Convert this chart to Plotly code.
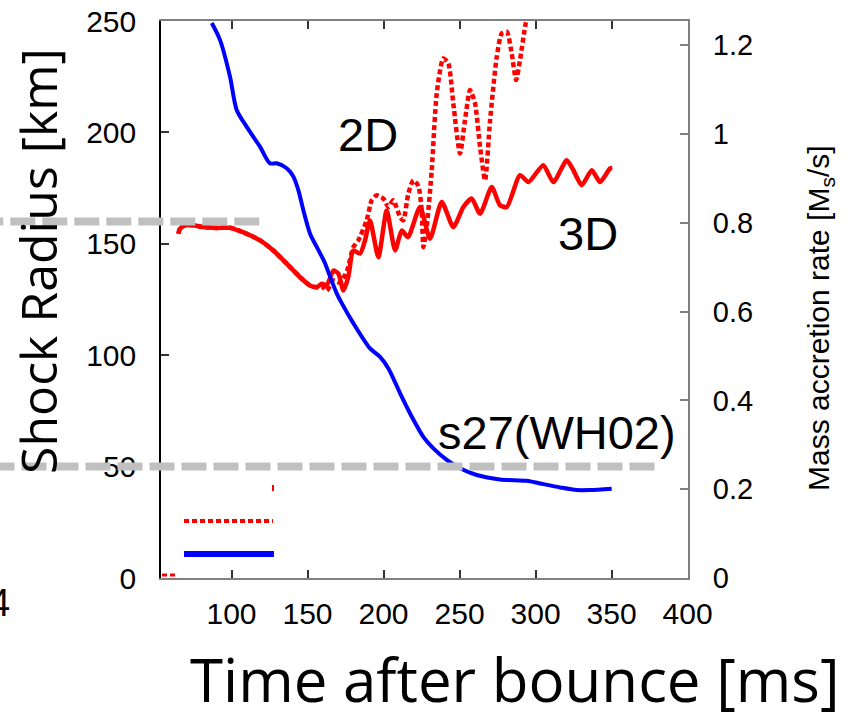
import plotly.graph_objects as go

# ---------------- data ----------------
# Mass accretion rate (right axis), blue
t_mdot = [87.0, 92.4, 99.0, 103.4, 110.0, 118.8, 125.3, 129.7, 136.3, 140.7, 143.9, 147.2,
          151.6, 157.1, 161.5, 164.8, 169.2, 172.5, 180.1, 191.1, 197.7, 203.2, 210.9, 217.4,
          226.2, 232.8, 241.6, 250.3, 261.3, 276.6, 294.2, 302.9, 316.1, 327.1, 335.9, 350.1]
mdot = [1.25, 1.212, 1.129, 1.054, 1.016, 0.971, 0.934, 0.934, 0.923, 0.904, 0.874, 0.829,
        0.776, 0.739, 0.709, 0.679, 0.641, 0.619, 0.574, 0.517, 0.498, 0.472, 0.416, 0.371,
        0.318, 0.292, 0.266, 0.247, 0.232, 0.222, 0.219, 0.213, 0.204, 0.198, 0.198, 0.201]

# Shock radius 3D (solid red)
t_3d = [65.0, 66.1, 69.4, 74.9, 81.4, 90.3, 99.0, 104.5, 112.2, 118.8, 127.5, 136.3, 145.1,
        151.6, 156.1, 159.3, 162.6, 167.0, 170.3, 173.6, 176.8, 180.1, 184.5, 187.8, 191.1,
        196.6, 202.1, 207.6, 212.0, 216.1, 224.0, 230.6, 238.3, 245.9, 252.5, 258.0, 263.5,
        271.2, 276.6, 281.1, 289.8, 295.3, 305.1, 311.7, 320.5, 324.9, 330.4, 337.0, 342.4,
        349.0, 350.5]
r_3d = [154.5, 156.8, 158.3, 158.3, 157.5, 157.1, 157.2, 156.0, 153.8, 151.5, 147.0, 141.1,
        135.0, 131.3, 130.5, 132.1, 131.3, 138.0, 136.6, 129.0, 135.0, 147.0, 145.6, 151.5,
        160.5, 144.0, 165.0, 147.0, 156.0, 153.0, 166.5, 152.3, 168.8, 157.5, 166.5, 170.3,
        163.5, 175.5, 167.3, 166.5, 180.8, 177.7, 185.3, 177.7, 187.5, 183.0, 176.3, 183.0,
        177.7, 183.8, 184.0]

# Shock radius 2D (dotted red)
t_2d = [65.0, 66.1, 69.4, 74.9, 81.4, 90.3, 99.0, 104.5, 112.2, 118.8, 127.5, 136.3, 145.1,
        151.6, 156.1, 159.3, 162.6, 167.0, 171.4, 176.0, 180.1, 183.4, 188.9, 192.2, 195.5,
        199.9, 203.2, 206.4, 210.9, 213.0, 216.3, 219.6, 222.9, 225.1, 226.2, 228.4, 231.7,
        235.0, 239.3, 242.6, 245.9, 250.3, 253.6, 256.9, 260.2, 263.5, 266.8, 270.1, 274.5,
        277.8, 281.1, 284.3, 287.2, 289.8, 293.1, 295.1]
r_2d = [154.5, 156.8, 158.3, 158.3, 157.5, 157.1, 157.2, 156.0, 153.8, 151.5, 147.0, 141.1,
        135.0, 131.3, 130.5, 131.0, 129.0, 133.5, 132.6, 138.0, 148.5, 151.5, 160.5, 169.5,
        171.8, 170.3, 166.5, 169.5, 162.0, 160.5, 172.5, 178.5, 176.0, 165.0, 148.5, 157.5,
        183.0, 217.5, 233.2, 231.0, 213.0, 190.5, 205.5, 219.0, 213.0, 193.5, 178.5, 205.5,
        234.0, 244.5, 245.2, 235.5, 223.5, 232.5, 247.4, 254.0]

x_ticks = [100, 150, 200, 250, 300, 350, 400]
y_ticks = [0, 50, 100, 150, 200, 250]
y2_ticks = [0, 0.2, 0.4, 0.6, 0.8, 1.0, 1.2]
y2_labels = ["0", "0.2", "0.4", "0.6", "0.8", "1", "1.2"]
ref_levels = [160, 50]  # gray dashed reference levels (km)

# ---------------- geometry ----------------
W, H = 852, 712
L, R, T, B = 161, 688, 21, 578


def px(xp):
    return (xp - L) / (R - L)


def py(yp):
    return (B - yp) / (B - T)


RED = "#ff0000"
BLUE = "#0000ff"
GRAY = "#c0c0c0"
AX = "#808080"
TICKFONT = dict(family="Liberation Sans, Arial, sans-serif", size=30, color="black")

fig = go.Figure()
fig.add_trace(go.Scatter(x=t_mdot, y=mdot, yaxis="y2", mode="lines",
                         line=dict(color=BLUE, width=4, shape="spline", smoothing=0.8),
                         showlegend=False, hoverinfo="skip"))
fig.add_trace(go.Scatter(x=t_3d, y=r_3d, mode="lines",
                         line=dict(color=RED, width=4.5, shape="spline", smoothing=0.6),
                         showlegend=False, hoverinfo="skip"))
fig.add_trace(go.Scatter(x=t_2d, y=r_2d, mode="lines",
                         line=dict(color=RED, width=4.5, dash="5px,3px", shape="spline",
                                   smoothing=0.6),
                         showlegend=False, hoverinfo="skip"))

shapes = []
# gray dashed reference lines
shapes.append(dict(type="line", xref="paper", yref="y", x0=px(-21.7), x1=px(266),
                   y0=ref_levels[0], y1=ref_levels[0],
                   line=dict(color=GRAY, width=8, dash="25px,7px"), layer="above"))
shapes.append(dict(type="line", xref="paper", yref="y", x0=px(-10.5), x1=px(660),
                   y0=ref_levels[1], y1=ref_levels[1],
                   line=dict(color=GRAY, width=8, dash="25px,7px"), layer="above"))
# legend line samples (no text)
shapes.append(dict(type="line", xref="paper", yref="paper", x0=px(184), x1=px(273),
                   y0=py(521), y1=py(521),
                   line=dict(color=RED, width=4, dash="5px,3px")))
shapes.append(dict(type="line", xref="paper", yref="paper", x0=px(184), x1=px(274),
                   y0=py(554), y1=py(554),
                   line=dict(color=BLUE, width=6)))
shapes.append(dict(type="line", xref="paper", yref="paper", x0=px(273), x1=px(273),
                   y0=py(485), y1=py(491),
                   line=dict(color=RED, width=2)))
# small red dotted bit in the lower-left corner
shapes.append(dict(type="line", xref="paper", yref="paper", x0=px(162), x1=px(176),
                   y0=py(575), y1=py(575),
                   line=dict(color=RED, width=3, dash="5px,3px")))

annotations = [
    dict(text="Shock Radius [km]", x=px(38), y=py(261), xref="paper", yref="paper",
         textangle=-90, showarrow=False, xanchor="center", yanchor="middle",
         font=dict(family="Open Sans, sans-serif", size=50, color="black")),
    dict(text="Time after bounce [ms]", x=px(515), y=py(679), xref="paper", yref="paper",
         showarrow=False, xanchor="center", yanchor="middle",
         font=dict(family="Open Sans, sans-serif", size=60, color="black")),
    dict(text="Mass accretion rate [M<sub>s</sub>/s]", x=px(820), y=py(318), xref="paper",
         yref="paper", textangle=-90, showarrow=False, xanchor="center", yanchor="middle",
         font=dict(family="Liberation Sans, Arial, sans-serif", size=30, color="black")),
    dict(text="2D", x=px(368), y=py(134), xref="paper", yref="paper", showarrow=False,
         xanchor="center", yanchor="middle",
         font=dict(family="Liberation Sans, Arial, sans-serif", size=47, color="black")),
    dict(text="3D", x=px(588), y=py(233), xref="paper", yref="paper", showarrow=False,
         xanchor="center", yanchor="middle",
         font=dict(family="Liberation Sans, Arial, sans-serif", size=47, color="black")),
    dict(text="s27(WH02)", x=px(557), y=py(432), xref="paper", yref="paper", showarrow=False,
         xanchor="center", yanchor="middle",
         font=dict(family="Liberation Sans, Arial, sans-serif", size=47, color="black")),
    dict(text="4", x=px(12), y=py(603), xref="paper", yref="paper", showarrow=False,
         xanchor="right", yanchor="middle",
         font=dict(family="Liberation Sans, Arial, sans-serif", size=38, color="black")),
]

fig.update_layout(
    width=W, height=H,
    margin=dict(l=L, r=W - R, t=T, b=H - B, pad=0, autoexpand=False),
    paper_bgcolor="white", plot_bgcolor="white",
    showlegend=False,
    shapes=shapes,
    annotations=annotations,
    xaxis=dict(range=[53.6, 400.3], tickvals=x_ticks, ticktext=[str(v) for v in x_ticks],
               ticks="inside", ticklen=8, tickwidth=1.5, tickcolor="#333333",
               showline=True, linecolor=AX, linewidth=2, mirror="ticks", automargin=False,
               showgrid=False, zeroline=False, tickfont=TICKFONT, ticklabelstandoff=8),
    yaxis=dict(range=[0, 250], tickvals=y_ticks, ticktext=[str(v) for v in y_ticks],
               ticks="inside", ticklen=8, tickwidth=1.5, tickcolor="#333333",
               showline=True, linecolor="black", linewidth=1.5, automargin=False,
               showgrid=False, zeroline=False, tickfont=TICKFONT, ticklabelstandoff=17),
    yaxis2=dict(range=[0, 1.2545], overlaying="y", side="right", tickvals=y2_ticks,
                ticktext=y2_labels, ticks="inside", ticklen=8, tickwidth=1.5,
                tickcolor=AX, showline=True, linecolor=AX, linewidth=2, automargin=False,
                showgrid=False, zeroline=False,
                tickfont=dict(family="Liberation Sans, Arial, sans-serif", size=29,
                              color="black"),
                ticklabelstandoff=17),
)

fig.write_html(
    "out.html",
    config={"displayModeBar": False},
    post_script="document.body.style.margin='0px';document.body.style.overflow='hidden';",
)
